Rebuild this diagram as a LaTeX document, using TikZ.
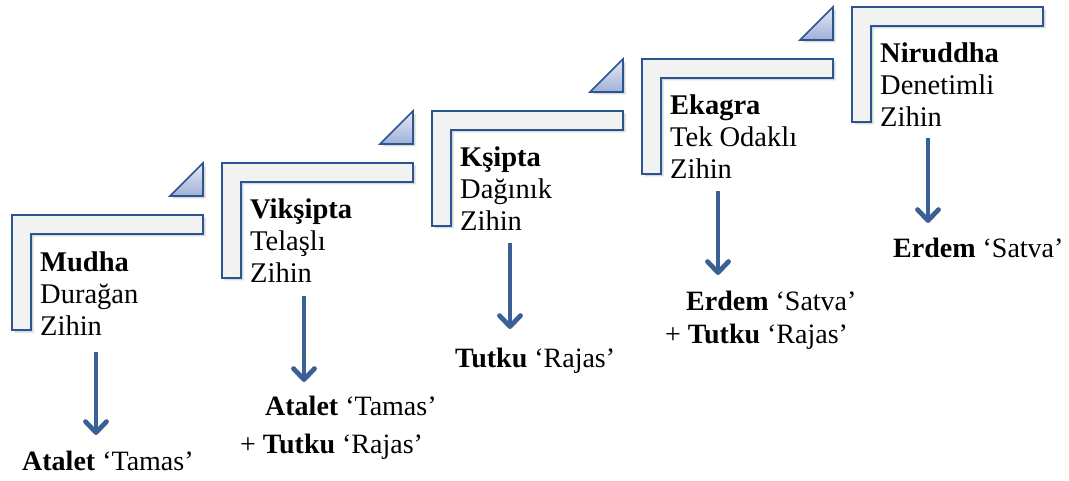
\documentclass[tikz,border=0pt]{standalone}
\usepackage{fontspec}
\setmainfont{Liberation Serif}
\usetikzlibrary{arrows.meta,shadows}

\definecolor{edgeblue}{RGB}{43,85,144}
\definecolor{barfill}{RGB}{242,242,242}
\definecolor{arrowblue}{RGB}{58,96,150}
\definecolor{triTop}{RGB}{228,233,246}
\definecolor{triBot}{RGB}{160,177,215}

\tikzset{
  corner/.style={draw=edgeblue, line width=1.6pt, fill=barfill, line join=miter,
    drop shadow={opacity=0.3, shadow xshift=2.5pt, shadow yshift=-2.5pt}},
  wedge/.style={draw=edgeblue, line width=1.6pt, top color=triTop, bottom color=triBot,
    drop shadow={opacity=0.3, shadow xshift=2.5pt, shadow yshift=-2.5pt}},
  % anchored on the baseline of the last line
  steptext/.style={inner sep=0pt, align=left, anchor=base west,
    font=\fontsize{28.5}{32}\selectfont},
  result/.style={inner sep=0pt, anchor=base west, font=\fontsize{28}{32}\selectfont},
  flow/.style={draw=arrowblue, line width=4.8pt,
    -{Straight Barb[length=11pt,width=21pt,line cap=round,line join=round]}}
}

\begin{document}
\begin{tikzpicture}[x=1pt,y=-1pt]
\useasboundingbox (0,0) rectangle (1069,481);

% the five stair steps (L-shaped bars) and the small wedges between them
\foreach \k in {0,...,4}{
  \pgfmathsetmacro{\L}{12+210*\k}
  \pgfmathsetmacro{\T}{215-52*\k}
  \draw[corner] (\L,\T) -- ++(191,0) -- ++(0,19) -- ++(-172,0) -- ++(0,96)
    -- ++(-19,0) -- cycle;
}
\foreach \k in {0,...,3}{
  \pgfmathsetmacro{\R}{203+210*\k}
  \pgfmathsetmacro{\T}{215-52*\k}
  \draw[wedge] (\R,\T-52) -- (\R,\T-19) -- (\R-33,\T-19) -- cycle;
}

% step texts
\node[steptext] (s1) at (40,335) {\textbf{Mudha}\\Durağan\\Zihin};
\node[steptext] (s2) at (250,283) {\textbf{Vikşipta}\\Telaşlı\\Zihin};
\node[steptext] (s3) at (460,231) {\textbf{Kşipta}\\Dağınık\\Zihin};
\node[steptext] (s4) at (670,179) {\textbf{Ekagra}\\Tek Odaklı\\Zihin};
\node[steptext] (s5) at (880,127) {\textbf{Niruddha}\\Denetimli\\Zihin};

% resulting qualities
\node[result] (r1) at (22,470) {\textbf{Atalet} ‘Tamas’};
\node[result] (r2a) at (265,415) {\textbf{Atalet} ‘Tamas’};
\node[result] (r2b) at (240,453) {+ \textbf{Tutku} ‘Rajas’};
\node[result] (r3) at (455,367) {\textbf{Tutku} ‘Rajas’};
\node[result] (r4a) at (686,311) {\textbf{Erdem} ‘Satva’};
\node[result] (r4b) at (665,343) {+ \textbf{Tutku} ‘Rajas’};
\node[result] (r5) at (893,258) {\textbf{Erdem} ‘Satva’};

% arrows from each step to its quality
\coordinate (a1) at (96,352);  \coordinate (b1) at (96,435);
\coordinate (a2) at (304,296); \coordinate (b2) at (304,382);
\coordinate (a3) at (510,243); \coordinate (b3) at (510,329);
\coordinate (a4) at (718,191); \coordinate (b4) at (718,275);
\coordinate (a5) at (928,138); \coordinate (b5) at (928,223);
\foreach \i in {1,...,5}{ \draw[flow] (a\i) -- (b\i); }
\end{tikzpicture}
\end{document}
